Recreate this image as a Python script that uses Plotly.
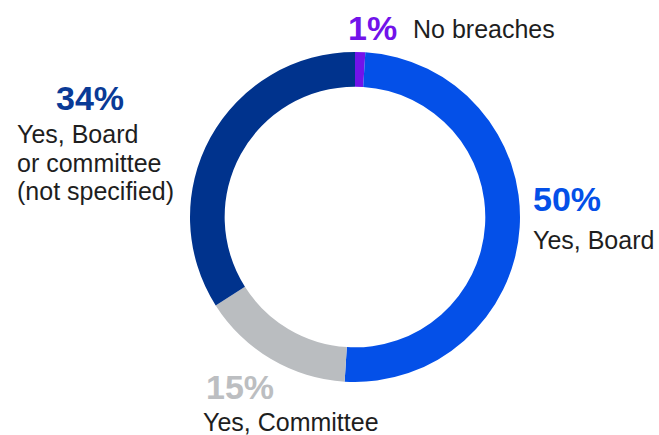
import plotly.graph_objects as go

# Board breach notification shares
categories = ["No breaches", "Yes, Board", "Yes, Committee", "Yes, Board or committee (not specified)"]
values = [1, 50, 15, 34]
slice_colors = ["#7213EA", "#0450E8", "#BABDC0", "#00338D"]
pct_colors = ["#7213EA", "#0450E8", "#BCBEC1", "#0A3A96"]

W, H = 659, 435
TEXT = "#1e1e1e"
FONT = "Liberation Sans, Arial, sans-serif"
PCT_SIZE = 34
LBL_SIZE = 25

fig = go.Figure(
    go.Pie(
        labels=categories,
        values=values,
        hole=0.79,
        sort=False,
        direction="clockwise",
        rotation=0,
        marker=dict(colors=slice_colors, line=dict(width=0)),
        textinfo="none",
        hoverinfo="label+percent",
        domain=dict(x=[190 / W, 520 / W], y=[(H - 382) / H, (H - 52) / H]),
        showlegend=False,
    )
)


def label(text, x, baseline, size, color, bold=False, xanchor="left"):
    # place text so that its baseline sits at the given pixel row
    bottom = baseline + 0.27 * size + 1
    fig.add_annotation(
        text=f"<b>{text}</b>" if bold else text,
        x=x / W, y=1 - bottom / H,
        xref="paper", yref="paper",
        xanchor=xanchor, yanchor="bottom",
        showarrow=False,
        font=dict(family=FONT, size=size, color=color),
    )


def pct(v):
    return f"{v}%"


# No breaches
label(pct(values[0]), 346, 39, PCT_SIZE, pct_colors[0], bold=True)
label("No breaches", 411, 37, LBL_SIZE, TEXT)

# Yes, Board
label(pct(values[1]), 531, 210, PCT_SIZE, pct_colors[1], bold=True)
label("Yes, Board", 531, 248, LBL_SIZE, TEXT)

# Yes, Committee
label(pct(values[2]), 204, 398, PCT_SIZE, pct_colors[2], bold=True)
label("Yes, Committee", 201, 430, LBL_SIZE, TEXT)

# Yes, Board or committee (not specified)
label(pct(values[3]), 90, 109, PCT_SIZE, pct_colors[3], bold=True, xanchor="center")
label("Yes, Board", 15, 142, LBL_SIZE, TEXT)
label("or committee", 15, 171, LBL_SIZE, TEXT)
label("(not specified)", 15, 199, LBL_SIZE, TEXT)

fig.update_layout(
    width=W, height=H,
    margin=dict(l=0, r=0, t=0, b=0),
    paper_bgcolor="white",
    plot_bgcolor="white",
)

fig.write_html("out.html")
